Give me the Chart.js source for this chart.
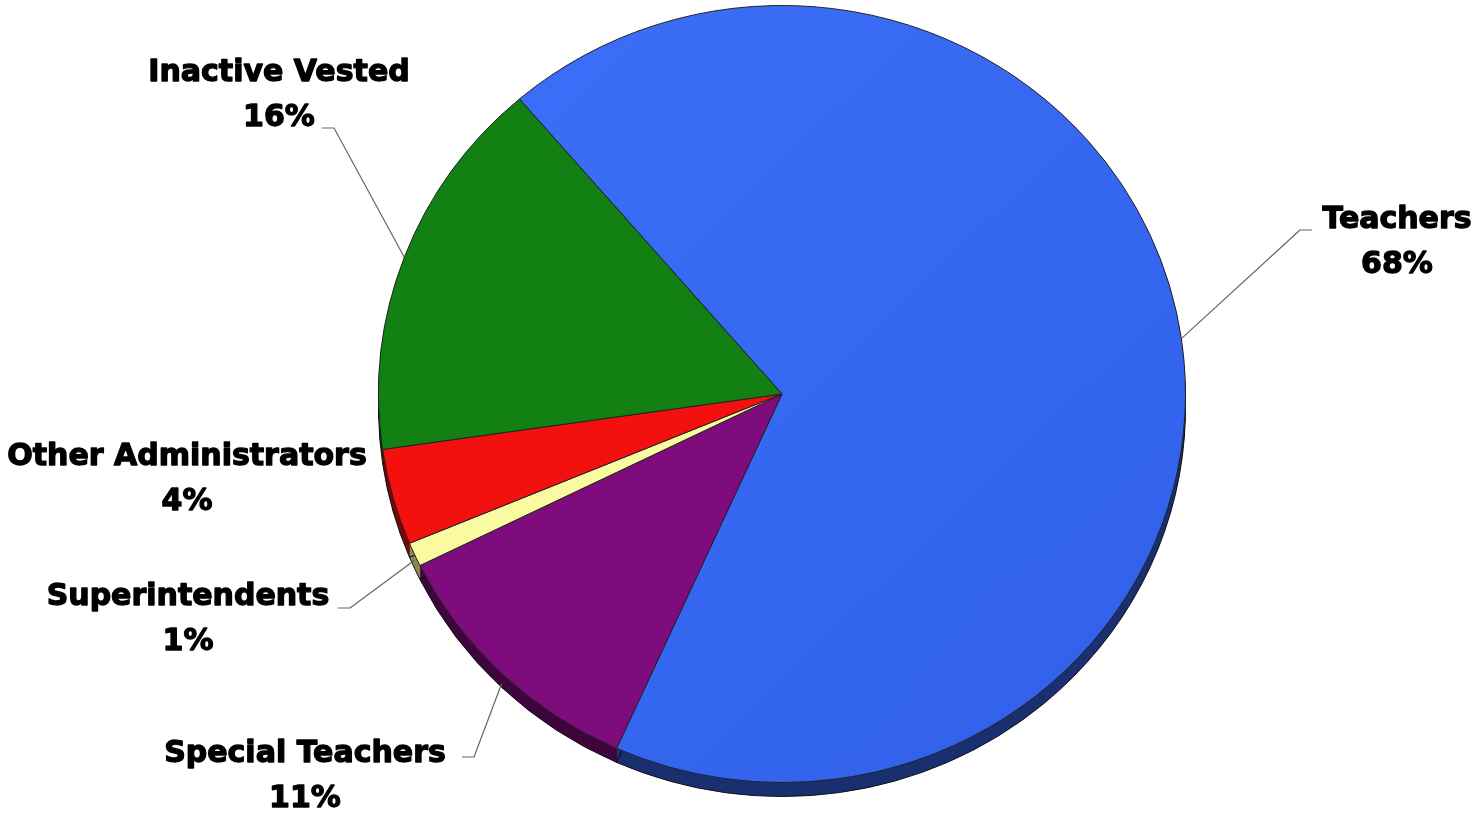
<!DOCTYPE html>
<html>
<head>
<meta charset="utf-8">
<script src="https://cdn.jsdelivr.net/npm/chart.js@4.4.1/dist/chart.umd.min.js"></script>
<style>
  html, body { margin: 0; padding: 0; background: #fff; overflow: hidden; }
  #wrap { width: 1478px; height: 814px; position: relative; }
</style>
</head>
<body>
<div id="wrap"><canvas id="pieChart"></canvas></div>
<script>
// membership by group, percent
var categories = ["Teachers", "Special Teachers", "Superintendents", "Other Administrators", "Inactive Vested"];
var shares = [68, 11, 1, 4, 16];

var sliceColors = ["#3668f3", "#7f0c7d", "#fafaa0", "#f51010", "#138013"];
var sideColors = ["#1a3070", "#3e063d", "#8a8a55", "#7a0808", "#0a450a"];

// where each label block sits (center of first line) and where its leader starts
var labelSpots = [
    { x: 1397, y: 220, stub: [1312, 230, -12] },
    { x: 305, y: 754, stub: [462, 757, 12] },
    { x: 188, y: 597, stub: [338, 608, 12] },
    { x: 187, y: 457, stub: null },
    { x: 279, y: 73, stub: [322, 128, 12] }
];

var squash = 389 / 404;   // pie is tilted a little
var lift = 13;            // move tilted pie up
var depth = 14;           // thickness of the side wall

function tilt(ctx, chart) {
    var el = chart.getDatasetMeta(0).data[0];
    ctx.translate(0, el.y - lift);
    ctx.scale(1, squash);
    ctx.translate(0, -el.y);
}

function wedge(ctx, el, dy) {
    ctx.beginPath();
    ctx.moveTo(el.x, el.y + dy);
    ctx.arc(el.x, el.y + dy, el.outerRadius, el.startAngle, el.endAngle);
    ctx.closePath();
}

var pie3d = {
    id: "pie3d",
    beforeDatasetsDraw: function(chart) {
        var ctx = chart.ctx;
        var arcs = chart.getDatasetMeta(0).data;
        ctx.save();
        tilt(ctx, chart);
        var d = depth / squash;
        for (var s = d; s > 0; s -= 1) {
            arcs.forEach(function(el, i) {
                wedge(ctx, el, s);
                ctx.fillStyle = sideColors[i];
                ctx.fill();
            });
        }
        arcs.forEach(function(el) {
            wedge(ctx, el, d);
            ctx.strokeStyle = "#111";
            ctx.lineWidth = 1;
            ctx.stroke();
        });
        // keep the tilt on for the slices themselves
    },
    afterDatasetsDraw: function(chart) {
        var ctx = chart.ctx;
        ctx.restore();

        var arcs = chart.getDatasetMeta(0).data;
        var total = shares.reduce(function(a, b) { return a + b; }, 0);
        ctx.save();
        ctx.font = "bold 30px 'DejaVu Sans', Verdana, sans-serif";
        ctx.fillStyle = "#000";
        ctx.strokeStyle = "#000";
        ctx.lineWidth = 1.3;
        ctx.lineJoin = "round";
        ctx.textAlign = "center";
        ctx.textBaseline = "middle";
        arcs.forEach(function(el, i) {
            var spot = labelSpots[i];
            var pct = Math.round(shares[i] / total * 100) + "%";
            ctx.fillText(categories[i], spot.x, spot.y);
            ctx.strokeText(categories[i], spot.x, spot.y);
            ctx.fillText(pct, spot.x, spot.y + 45);
            ctx.strokeText(pct, spot.x, spot.y + 45);
        });

        ctx.strokeStyle = "#6e625e";
        ctx.lineWidth = 1.2;
        arcs.forEach(function(el, i) {
            var spot = labelSpots[i];
            if (!spot.stub) return;

            var mid = (el.startAngle + el.endAngle) / 2;
            var ex = el.x + el.outerRadius * Math.cos(mid);
            var ey = el.y + el.outerRadius * Math.sin(mid);
            ey = (el.y - lift) + (ey - el.y) * squash;
            ey += depth * Math.max(0, Math.sin(mid));

            ctx.beginPath();
            ctx.moveTo(spot.stub[0], spot.stub[1]);
            ctx.lineTo(spot.stub[0] + spot.stub[2], spot.stub[1]);
            ctx.lineTo(ex, ey);
            ctx.stroke();
        });
        ctx.restore();
    }
};

var section = document.getElementById("pieChart");
var myChart = new Chart(section, {
    type: "pie",
    data: {
        labels: categories,
        datasets: [{
            data: shares,
            backgroundColor: function(c) {
                var i = c.dataIndex;
                var area = c.chart.chartArea;
                if (i !== 0 || !area) return sliceColors[i];
                var g = c.chart.ctx.createLinearGradient(area.left, area.top, area.right, area.bottom);
                g.addColorStop(0, "#3d6ffa");
                g.addColorStop(1, "#3060e8");
                return g;
            },
            borderColor: "#222",
            borderWidth: 1
        }]
    },
    options: {
        responsive: true,
        maintainAspectRatio: false,
        animation: false,
        rotation: -40.6,
        layout: { padding: { left: 378, right: 292, top: 3, bottom: 3 } },
        plugins: {
            legend: { display: false },
            tooltip: { enabled: false }
        }
    },
    plugins: [pie3d]
});
</script>
</body>
</html>
